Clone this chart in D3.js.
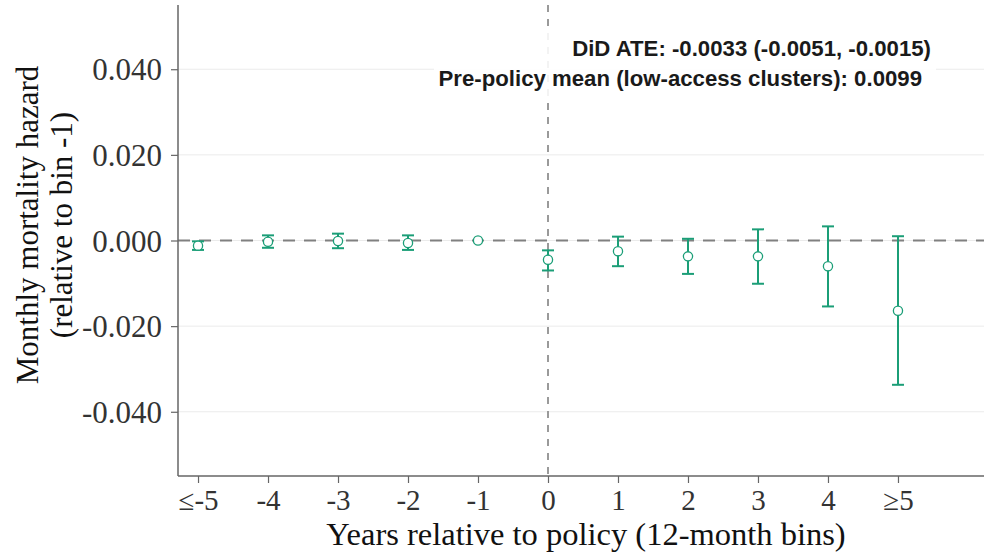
<!DOCTYPE html>
<html><head><meta charset="utf-8">
<script src="https://cdn.jsdelivr.net/npm/d3@7"></script>
<style>html,body{margin:0;padding:0;background:#fff;}svg{display:block;}</style>
</head><body>
<svg id="chart" width="984" height="556"></svg>
<script>
const bins = ["≤-5","-4","-3","-2","-1","0","1","2","3","4","≥5"];
const relYears = [-5,-4,-3,-2,-1,0,1,2,3,4,5];
const estimates = [-0.0012,-0.0003,-0.0001,-0.0006,0,-0.0045,-0.0025,-0.0037,-0.0037,-0.0060,-0.0164];
const ciLow  = [-0.0022,-0.0017,-0.0018,-0.0022,0,-0.0070,-0.0060,-0.0078,-0.0101,-0.0154,-0.0337];
const ciHigh = [-0.0002,0.0012,0.0016,0.0012,0,-0.0023,0.0009,0.0004,0.0026,0.0033,0.0010];
const yTicks = [-0.04,-0.02,0,0.02,0.04];
const annotLines = ["DiD ATE: -0.0033 (-0.0051, -0.0015)","Pre-policy mean (low-access clusters): 0.0099"];

const W=984,H=556, L=178, R=984, T=5, B=476;
const green="#1b9e77";
const svg=d3.select("#chart");
const x=d3.scaleLinear().domain([-5.286,6.229]).range([L,R]);
const y=d3.scaleLinear().domain([-0.055,0.055]).range([B,T]);

// grid
svg.append("g").selectAll("line").data(yTicks).join("line")
  .attr("x1",L).attr("x2",R).attr("y1",d=>y(d)).attr("y2",d=>y(d))
  .attr("stroke","#ebebeb").attr("stroke-width",1);

// reference lines
svg.append("line").attr("x1",L).attr("x2",R).attr("y1",y(0)).attr("y2",y(0))
  .attr("stroke","#808080").attr("stroke-width",2).attr("stroke-dasharray","12,9");
svg.append("line").attr("x1",x(0)).attr("x2",x(0)).attr("y1",T).attr("y2",B)
  .attr("stroke","#9a9a9a").attr("stroke-width",2).attr("stroke-dasharray","7,7");

// axes
const fmt=d=>d3.format(".3f")(d).replace("\u2212","-");
const yAxis=d3.axisLeft(y).tickValues(yTicks).tickFormat(fmt).tickSize(7).tickSizeOuter(0);
const gy=svg.append("g").attr("transform",`translate(${L},0)`).call(yAxis);
gy.select(".domain").attr("d",`M0,${T}V${B}`).attr("stroke","#666").attr("stroke-width",1.5);
gy.selectAll(".tick line").attr("stroke","#666").attr("stroke-width",1.2);
gy.selectAll(".tick text").attr("font-family","'Liberation Serif',serif").attr("font-size",31)
  .attr("fill","#333").attr("x",-16).attr("dy","0.34em");

const xAxis=d3.axisBottom(x).tickValues(relYears).tickFormat((d,i)=>bins[i]).tickSize(7).tickSizeOuter(0);
const gx=svg.append("g").attr("transform",`translate(0,${B})`).call(xAxis);
gx.select(".domain").attr("d",`M${L},0H${R}`).attr("stroke","#666").attr("stroke-width",1.5);
gx.selectAll(".tick line").attr("stroke","#666").attr("stroke-width",1.2);
gx.selectAll(".tick text").attr("font-family","'Liberation Serif',serif").attr("font-size",29)
  .attr("fill","#333").attr("y",34).attr("dy",0);

// error bars
const data=relYears.map((r,i)=>({r,est:estimates[i],lo:ciLow[i],hi:ciHigh[i]}));
const eb=svg.append("g").selectAll("g").data(data.filter(d=>d.lo!==d.hi)).join("g")
  .attr("stroke",green).attr("stroke-width",2);
eb.append("line").attr("x1",d=>x(d.r)).attr("x2",d=>x(d.r)).attr("y1",d=>y(d.lo)).attr("y2",d=>y(d.hi));
eb.append("line").attr("x1",d=>x(d.r)-6).attr("x2",d=>x(d.r)+6).attr("y1",d=>y(d.lo)).attr("y2",d=>y(d.lo));
eb.append("line").attr("x1",d=>x(d.r)-6).attr("x2",d=>x(d.r)+6).attr("y1",d=>y(d.hi)).attr("y2",d=>y(d.hi));

svg.append("g").selectAll("circle").data(data).join("circle")
  .attr("cx",d=>x(d.r)).attr("cy",d=>y(d.est)).attr("r",4.6)
  .attr("fill","#fff").attr("stroke",green).attr("stroke-width",1.3);

// annotation
svg.append("rect").attr("x",434).attr("y",32).attr("width",502).attr("height",66)
  .attr("fill","#fff").attr("opacity",0.88);
const ann=svg.append("g").attr("font-family","'Liberation Sans',Arial,sans-serif")
  .attr("font-weight","bold").attr("font-size",22.2).attr("fill","#1a1a1a").attr("text-anchor","end");
ann.append("text").attr("x",931).attr("y",55.5).text(annotLines[0]);
ann.append("text").attr("x",922).attr("y",86).text(annotLines[1]);

// axis titles
svg.append("text").attr("x",586).attr("y",545).attr("text-anchor","middle")
  .attr("font-family","'Liberation Serif',serif").attr("font-size",32.5).attr("fill","#111")
  .text("Years relative to policy (12-month bins)");
const yt=svg.append("g").attr("transform","translate(0,225) rotate(-90)")
  .attr("font-family","'Liberation Serif',serif").attr("font-size",31).attr("fill","#111").attr("text-anchor","middle");
yt.append("text").attr("x",0).attr("y",38).text("Monthly mortality hazard");
yt.append("text").attr("x",0).attr("y",72).text("(relative to bin -1)");
</script>
</body></html>
